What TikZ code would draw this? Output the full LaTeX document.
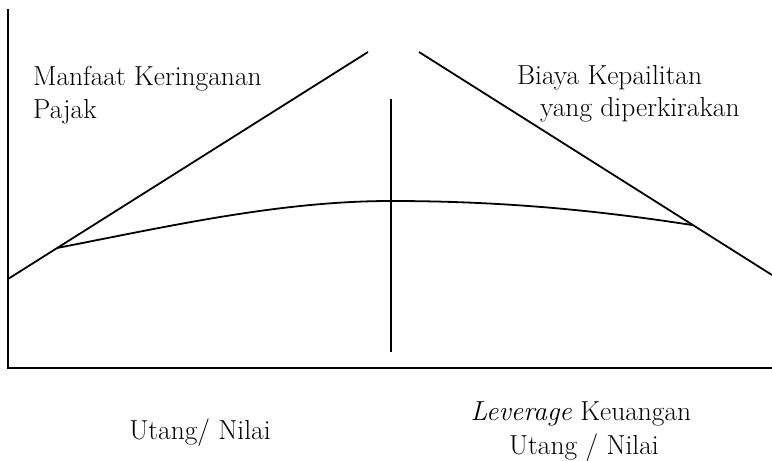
\documentclass[tikz,border=0pt]{standalone}
\begin{document}
\begin{tikzpicture}[x=1pt,y=-1pt,
  axis/.style={line width=2.4pt,line cap=rect},
  ln/.style={line width=1.8pt},
  toplbl/.style={anchor=base west,inner sep=0pt,font=\fontsize{27.5}{32}\selectfont},
  botlbl/.style={anchor=base,inner sep=0pt,font=\fontsize{27.5}{32}\selectfont}]
\useasboundingbox (0,0) rectangle (772,461);
% axes
\coordinate (ytop) at (8,10);
\coordinate (orig) at (8,368);
\coordinate (xend) at (772,368);
\draw[axis] (ytop) -- (orig) -- (xend);
% tax benefit line
\coordinate (la) at (8,279);
\coordinate (lb) at (368,52);
\draw[ln] (la) -- (lb);
% bankruptcy cost line
\coordinate (ra) at (419,52);
\coordinate (rb) at (772,275);
\draw[ln] (ra) -- (rb);
% optimum vertical
\coordinate (vt) at (391,99);
\coordinate (vb) at (391,352);
\draw[ln] (vt) -- (vb);
% value curve
\coordinate (c0) at (57,248);
\coordinate (cp) at (391,201);
\coordinate (c1) at (692,225);
\draw[ln] (c0) .. controls (170,226) and (280,201) .. (cp)
  .. controls (500,201) and (595,210) .. (c1);
% labels
\node[toplbl] (mk) at (33,85) {Manfaat Keringanan};
\node[toplbl] (pj) at (33,118) {Pajak};
\node[toplbl] (bk) at (517,84) {Biaya Kepailitan};
\node[toplbl] (yd) at (540,116) {yang diperkirakan};
\node[botlbl] (un) at (200,439) {Utang/ Nilai};
\node[botlbl] (lk) at (581,420) {\textit{Leverage} Keuangan};
\node[botlbl] (un2) at (584,454) {Utang / Nilai};
\end{tikzpicture}
\end{document}
